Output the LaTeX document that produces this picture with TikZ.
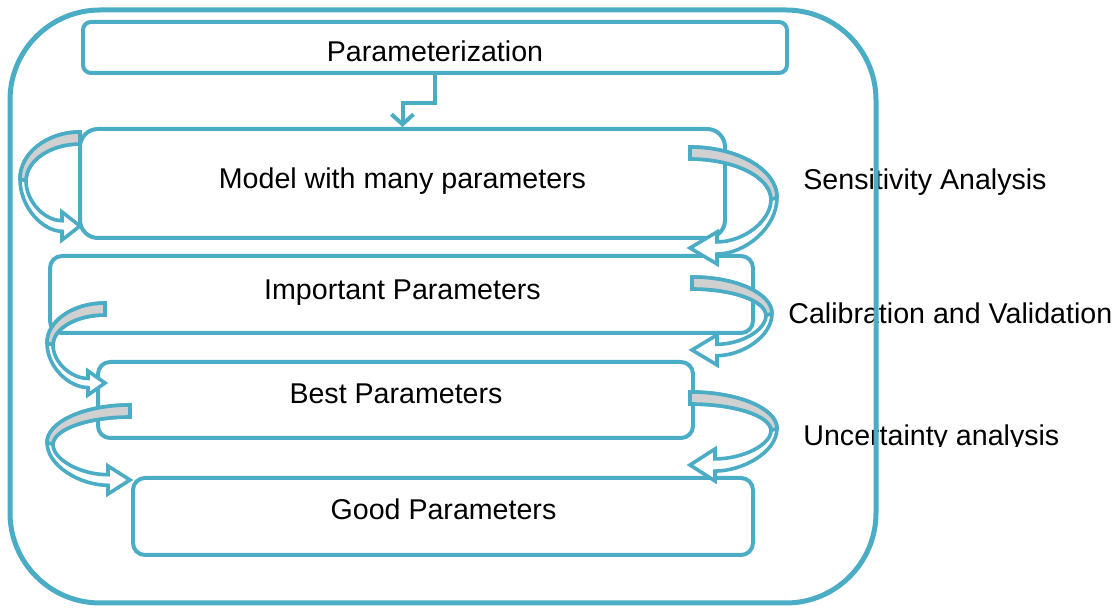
\documentclass[tikz,border=0pt]{standalone}
\usepackage{fontspec}
\setmainfont{Liberation Sans}
\usetikzlibrary{arrows.meta}
\definecolor{accent}{RGB}{75,172,198}
\definecolor{backface}{RGB}{208,208,208}

% Curved ribbon arrow.
% #1,#2: top of the band; #3: side (+1 bulges right, -1 bulges left);
% #4: bulge; #5: drop to the tip; #6: head length; #7: head half-height
\newcommand\ribbonarrow[7]{%
  \begin{scope}[shift={(#1,#2)},xscale=#3]
    \pgfmathsetmacro\rbR{#4}
    \pgfmathsetmacro\rbI{#4-6}
    \pgfmathsetmacro\rbM{#5/2}
    \pgfmathsetmacro\rbN{#5/2+2}
    \pgfmathsetmacro\rbA{0.55*#4}
    \pgfmathsetmacro\rbB{0.45*#5/2}
    \pgfmathsetmacro\rbC{0.55*(#4-6)}
    \pgfmathsetmacro\rbD{12+0.45*(#5/2+2-12)}
    \pgfmathsetmacro\rbW{0.38*#7}
    \pgfmathsetmacro\rbLo{#5+\rbW}
    \pgfmathsetmacro\rbUp{#5-\rbW}
    \pgfmathsetmacro\rbE{#5/2+0.55*(\rbLo-#5/2)}
    \pgfmathsetmacro\rbF{#6+0.45*(#4-#6)}
    \pgfmathsetmacro\rbG{#6+0.5*(\rbI-#6)}
    \pgfmathsetmacro\rbJ{\rbN+0.5*(\rbUp-\rbN)}
    \pgfmathsetmacro\rbHt{#5+#7}
    \pgfmathsetmacro\rbHb{#5-#7}
    \path[ribbon] (0,0) .. controls (\rbA,0) and (\rbR,\rbB) .. (\rbR,\rbM)
      .. controls (\rbR,\rbE) and (\rbF,\rbLo) .. (#6,\rbLo)
      -- (#6,\rbHt) -- (0,#5) -- (#6,\rbHb) -- (#6,\rbUp)
      .. controls (\rbG,\rbUp) and (\rbI,\rbJ) .. (\rbI,\rbN)
      .. controls (\rbI,\rbD) and (\rbC,12) .. (0,12) -- cycle;
    \path[ribbon back] (0,0) .. controls (\rbA,0) and (\rbR,\rbB) .. (\rbR,\rbM)
      -- (\rbI,\rbN) .. controls (\rbI,\rbD) and (\rbC,12) .. (0,12) -- cycle;
  \end{scope}}

\begin{document}
\begin{tikzpicture}[x=0.5pt,y=-0.5pt,
  box/.style={draw=accent,line width=2pt,rounded corners=#1,inner sep=0pt},
  box/.default=6pt,
  conn/.style={draw=accent,line width=2pt,-{Straight Barb[length=5pt,width=11pt]}},
  ribbon/.style={draw=accent,line width=1.8pt,fill=white,line join=miter},
  ribbon back/.style={draw=accent,line width=1.8pt,fill=backface,line join=miter},
  txt/.style={font=\fontsize{14.3}{17}\selectfont,inner sep=0pt,anchor=base},
  side/.style={txt,anchor=base west}]

\useasboundingbox (0,0) rectangle (1120,608);

% process boxes
\node[box=4pt,minimum width=352pt,minimum height=25.5pt] (param) at (435,47.5) {};
\node[box=9pt,minimum width=322.5pt,minimum height=54.5pt] (model) at (402.5,183.5) {};
\node[box,minimum width=351.5pt,minimum height=38.5pt] (important) at (401.5,294.5) {};
\node[box,minimum width=297.5pt,minimum height=38pt] (best) at (395.5,400) {};
\node[box,minimum width=310pt,minimum height=38.5pt] (good) at (443,516.5) {};

% elbow connector
\draw[conn] (param.south) -- ++(0,28) -| (model.north);

% curved ribbon arrows, left side
\ribbonarrow{80}{132}{-1}{60}{94}{18}{14}
\ribbonarrow{105}{303}{-1}{58}{80}{17}{12}
\ribbonarrow{130}{405}{-1}{83}{75}{22}{14}
% curved ribbon arrows, right side
\ribbonarrow{690}{147}{1}{87}{101}{27}{16}
\ribbonarrow{692}{277}{1}{80}{73}{25}{15}
\ribbonarrow{690}{392}{1}{87}{73}{25}{16}

% box texts
\node[txt] (t-param) at (435,61.5) {Parameterization};
\node[txt] (t-model) at (402.5,188.5) {Model with many parameters};
\node[txt] (t-important) at (402.5,299.5) {Important Parameters};
\node[txt] (t-best) at (396,403.5) {Best Parameters};
\node[txt] (t-good) at (443.5,519.5) {Good Parameters};

% step labels
\node[side] (t-sens) at (803,189.5) {Sensitivity Analysis};
\node[side] (t-calib) at (788,323.5) {Calibration and Validation};
\begin{scope}
  \clip (780,400) rectangle (1120,447);
  \node[side] (t-unc) at (803,446) {Uncertainty analysis};
\end{scope}

% outer frame
\draw[accent,line width=2.5pt,rounded corners=45pt] (10,10) rectangle (876,603);
\end{tikzpicture}
\end{document}
